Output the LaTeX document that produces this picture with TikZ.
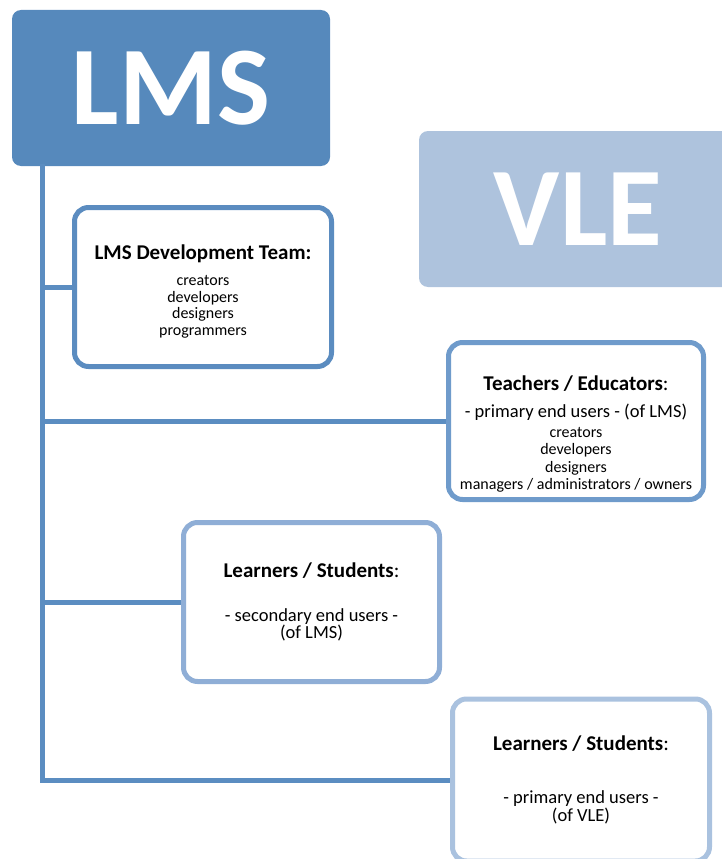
\documentclass[tikz,border=0pt]{standalone}
\usepackage{fontspec}
\setmainfont{Carlito}
\usetikzlibrary{positioning}
\definecolor{lmsblue}{HTML}{5689BC}
\definecolor{vleblue}{HTML}{AEC3DD}
\definecolor{trunk}{HTML}{5B8DC1}
\definecolor{edgeone}{HTML}{5B8CC0}
\definecolor{edgetwo}{HTML}{6F9BCB}
\definecolor{edgethree}{HTML}{8FAED6}
\definecolor{edgefour}{HTML}{AAC2DF}
\tikzset{
  bigbox/.style={rounded corners=9pt, minimum width=318pt, minimum height=156pt, inner sep=0pt,
    text=white, font=\fontsize{112}{112}\selectfont\bfseries},
  rolebox/.style={draw, line width=5pt, fill=white, rounded corners=14pt, align=center,
    minimum width=256pt, minimum height=159pt, inner sep=0pt, font=\fontsize{16}{16.8}\selectfont},
  branch/.style={draw=trunk, line width=5pt}
}
\newcommand{\roletitle}[1]{{\fontsize{21}{25}\selectfont\bfseries #1}}
\newcommand{\rolecolon}{{\fontsize{21}{25}\selectfont:}}
\newcommand{\rolebody}[1]{{\fontsize{18.5}{18}\selectfont #1}}
\begin{document}
\begin{tikzpicture}[x=1pt, y=-1pt]
\useasboundingbox (0,0) rectangle (722,859);
\clip (0,0) rectangle (722,859);
\node[bigbox, fill=lmsblue] (lms) at (171,88) {LMS};
\node[bigbox, fill=vleblue] (vle) at (578,209) {VLE};
\node[rolebox, draw=edgeone, minimum width=257pt] (devteam) at (203,287)
  {\rule{0pt}{24pt}\roletitle{LMS Development Team:}\\[9pt] creators\\ developers\\ designers\\ programmers};
\node[rolebox, draw=edgetwo, minimum width=255pt, minimum height=157pt] (teachers) at (576,421)
  {\rule{0pt}{40pt}\roletitle{Teachers / Educators}\rolecolon\\[11pt] \rolebody{- primary end users - (of LMS)}\\[3pt]
   creators\\ developers\\[1pt] designers\\ managers / administrators / owners};
\node[rolebox, draw=edgethree] (learnlms) at (311.5,602)
  {\roletitle{Learners / Students}\rolecolon\\[27pt] \rolebody{- secondary end users -}\\[1pt] \rolebody{(of LMS)}};
\node[rolebox, draw=edgefour, minimum width=257pt, minimum height=162pt] (learnvle) at (581,780)
  {\roletitle{Learners / Students}\rolecolon\\[36pt] \rolebody{- primary end users -}\\[2pt] \rolebody{(of VLE)}};
% trunk from LMS down to the last branch
\coordinate (root) at (42,164);
\draw[branch] (root) |- (learnvle.west);
\foreach \n in {devteam,teachers,learnlms} {\draw[branch] (root |- \n.west) -- (\n.west);}
\end{tikzpicture}
\end{document}
